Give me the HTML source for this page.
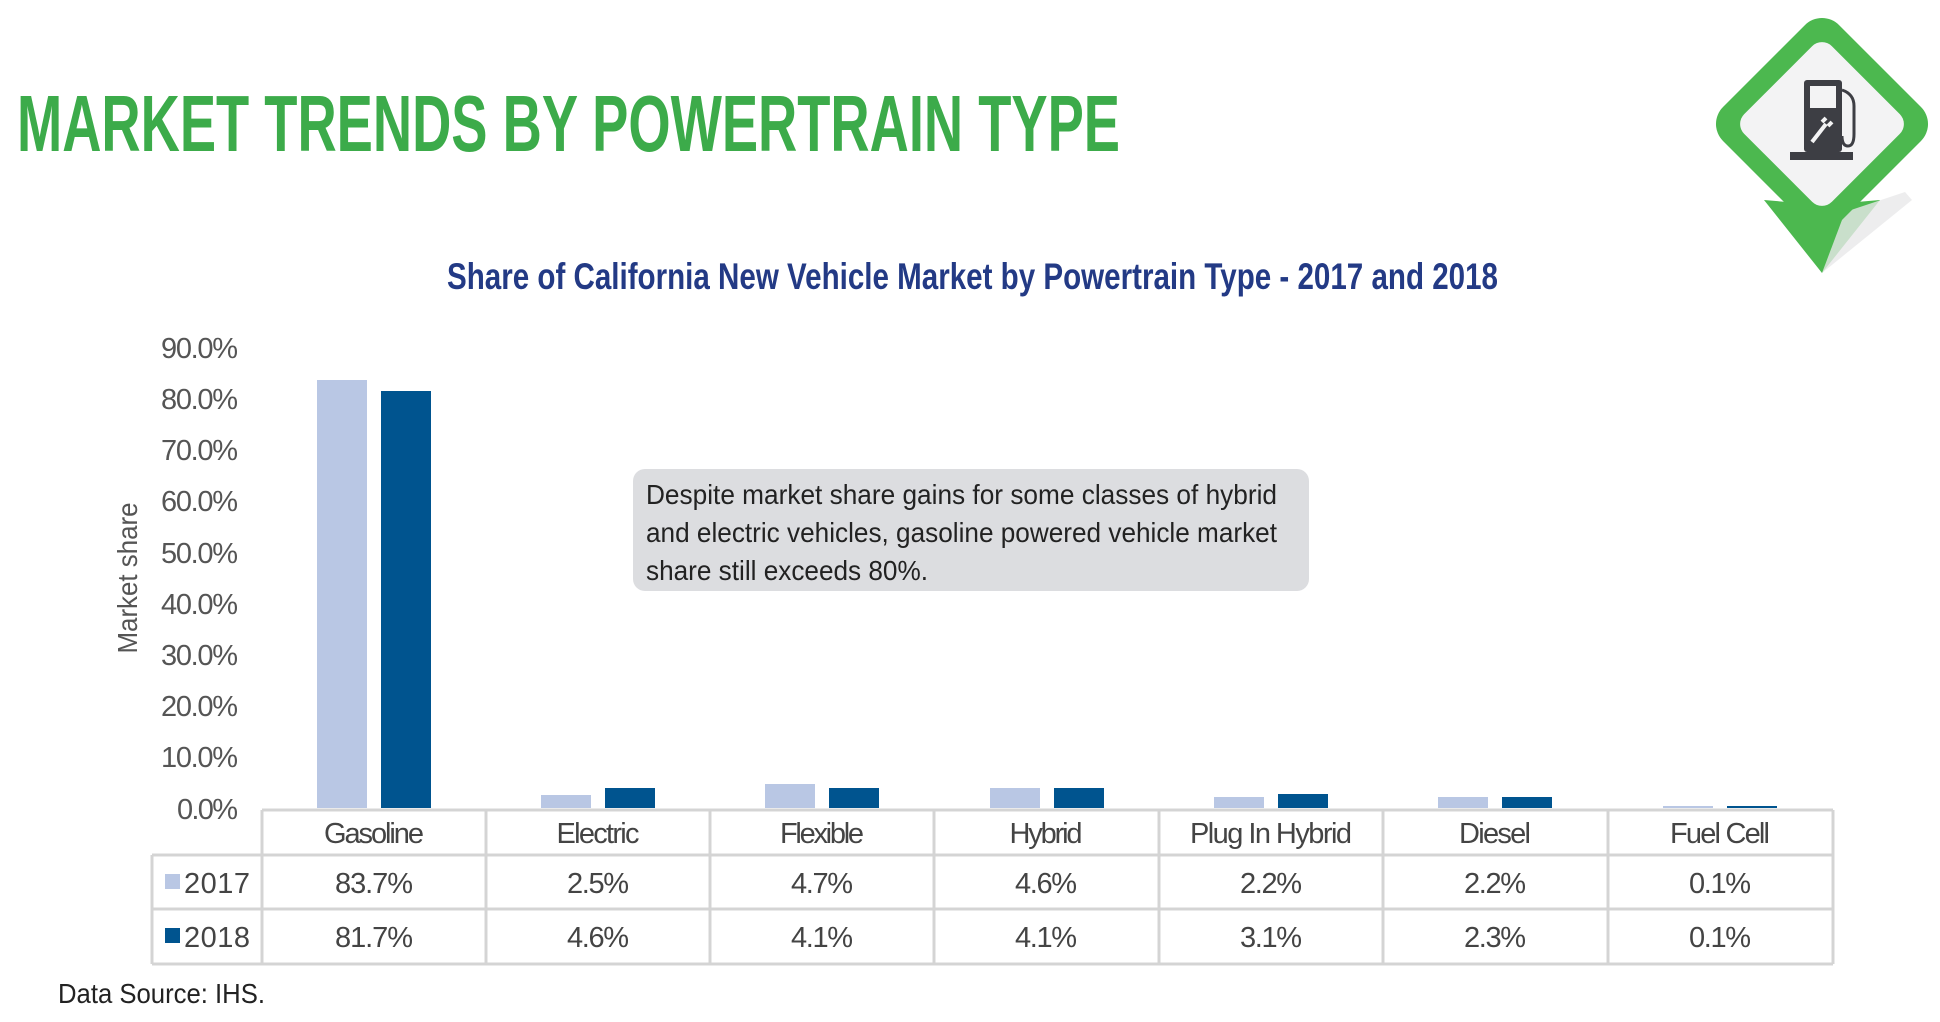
<!DOCTYPE html>
<html><head><meta charset="utf-8"><style>
html,body{margin:0;padding:0;background:#fff;}
svg{display:block;}
text{font-family:"Liberation Sans Narrow","Liberation Sans",sans-serif;}
</style></head><body>
<svg width="1940" height="1022" viewBox="0 0 1940 1022" xmlns="http://www.w3.org/2000/svg">
<rect width="1940" height="1022" fill="#fff"/>
<text x="17" y="151" font-size="80" font-weight="bold" fill="#3cab4a" textLength="1103" lengthAdjust="spacingAndGlyphs">MARKET TRENDS BY POWERTRAIN TYPE</text>
<text x="447" y="289" font-size="37" font-weight="bold" fill="#233a85" textLength="1051" lengthAdjust="spacingAndGlyphs">Share of California New Vehicle Market by Powertrain Type - 2017 and 2018</text>

<!-- icon -->
<g>
<polygon points="1822,205 1880,200 1822,273 1764,200" fill="#4cb84f"/>
<polygon points="1822,273 1845,212 1905,192 1912,200" fill="#e8e8ea" opacity="0.8"/>
<rect x="1740" y="42" width="164" height="164" rx="24" transform="rotate(45 1822 124)" fill="#4cb84f"/>
<rect x="1760" y="62" width="124" height="124" rx="14" transform="rotate(45 1822 124)" fill="#f3f3f4"/>
<rect x="1804" y="80" width="38" height="72" rx="3" fill="#3d3e44"/>
<rect x="1810" y="86" width="26" height="22" fill="#f3f3f4"/>
<rect x="1790" y="152" width="63" height="8" fill="#3d3e44"/>
<path d="M1842 90 q12 4 12 16 v28 q0 12 -6 12 q-6 0 -6 -10" stroke="#3d3e44" stroke-width="3" fill="none"/>
<path d="M1812 142 l14 -18 m-4 -2 l4 -4 m2 8 l4 -4" stroke="#f3f3f4" stroke-width="4" fill="none"/>
</g>

<!-- y axis -->
<g font-size="29" fill="#555" text-anchor="end" lengthAdjust="spacingAndGlyphs">
<text x="238" y="358" textLength="77">90.0%</text>
<text x="238" y="409" textLength="77">80.0%</text>
<text x="238" y="460" textLength="77">70.0%</text>
<text x="238" y="511" textLength="77">60.0%</text>
<text x="238" y="563" textLength="77">50.0%</text>
<text x="238" y="614" textLength="77">40.0%</text>
<text x="238" y="665" textLength="77">30.0%</text>
<text x="238" y="716" textLength="77">20.0%</text>
<text x="238" y="767" textLength="77">10.0%</text>
<text x="238" y="819" textLength="61">0.0%</text>
</g>
<text transform="translate(137 578) rotate(-90)" font-size="28" fill="#555" text-anchor="middle" textLength="151" lengthAdjust="spacingAndGlyphs">Market share</text>

<!-- bars -->
<g>
<rect x="317" y="380" width="50" height="428" fill="#b9c7e4"/>
<rect x="381" y="391" width="50" height="417" fill="#00548f"/>
<rect x="541" y="795" width="50" height="13" fill="#b9c7e4"/>
<rect x="605" y="788" width="50" height="20" fill="#00548f"/>
<rect x="765" y="784" width="50" height="24" fill="#b9c7e4"/>
<rect x="829" y="788" width="50" height="20" fill="#00548f"/>
<rect x="990" y="788" width="50" height="20" fill="#b9c7e4"/>
<rect x="1054" y="788" width="50" height="20" fill="#00548f"/>
<rect x="1214" y="797" width="50" height="11" fill="#b9c7e4"/>
<rect x="1278" y="794" width="50" height="14" fill="#00548f"/>
<rect x="1438" y="797" width="50" height="11" fill="#b9c7e4"/>
<rect x="1502" y="797" width="50" height="11" fill="#00548f"/>
<rect x="1663" y="806" width="50" height="2" fill="#b9c7e4"/>
<rect x="1727" y="806" width="50" height="2" fill="#00548f"/>
</g>

<!-- annotation -->
<rect x="633" y="469" width="676" height="122" rx="12" fill="#dcdde0"/>
<g font-size="28" fill="#222">
<text x="646" y="504" textLength="631" lengthAdjust="spacingAndGlyphs">Despite market share gains for some classes of hybrid</text>
<text x="646" y="542" textLength="631" lengthAdjust="spacingAndGlyphs">and electric vehicles, gasoline powered vehicle market</text>
<text x="646" y="580" textLength="282" lengthAdjust="spacingAndGlyphs">share still exceeds 80%.</text>
</g>

<!-- table -->
<g stroke="#d4d4d4" stroke-width="3" fill="none">
<line x1="262" y1="810" x2="1833" y2="810"/>
<line x1="152" y1="855" x2="1833" y2="855"/>
<line x1="152" y1="909" x2="1833" y2="909"/>
<line x1="152" y1="964" x2="1833" y2="964"/>
<line x1="152" y1="855" x2="152" y2="964"/>
<line x1="262" y1="810" x2="262" y2="964"/>
<line x1="486" y1="810" x2="486" y2="964"/>
<line x1="710" y1="810" x2="710" y2="964"/>
<line x1="934" y1="810" x2="934" y2="964"/>
<line x1="1159" y1="810" x2="1159" y2="964"/>
<line x1="1383" y1="810" x2="1383" y2="964"/>
<line x1="1608" y1="810" x2="1608" y2="964"/>
<line x1="1833" y1="810" x2="1833" y2="964"/>
</g>
<g font-size="29" fill="#444" text-anchor="middle" lengthAdjust="spacingAndGlyphs">
<text x="374" y="843" textLength="100">Gasoline</text>
<text x="598" y="843" textLength="83">Electric</text>
<text x="822" y="843" textLength="84">Flexible</text>
<text x="1046" y="843" textLength="73">Hybrid</text>
<text x="1271" y="843" textLength="162">Plug In Hybrid</text>
<text x="1495" y="843" textLength="72">Diesel</text>
<text x="1720" y="843" textLength="100">Fuel Cell</text>
<text x="374" y="893" textLength="78">83.7%</text>
<text x="598" y="893" textLength="62">2.5%</text>
<text x="822" y="893" textLength="62">4.7%</text>
<text x="1046" y="893" textLength="62">4.6%</text>
<text x="1271" y="893" textLength="62">2.2%</text>
<text x="1495" y="893" textLength="62">2.2%</text>
<text x="1720" y="893" textLength="62">0.1%</text>
<text x="374" y="947" textLength="78">81.7%</text>
<text x="598" y="947" textLength="62">4.6%</text>
<text x="822" y="947" textLength="62">4.1%</text>
<text x="1046" y="947" textLength="62">4.1%</text>
<text x="1271" y="947" textLength="62">3.1%</text>
<text x="1495" y="947" textLength="62">2.3%</text>
<text x="1720" y="947" textLength="62">0.1%</text>
</g>
<rect x="165" y="874" width="15" height="15" fill="#b9c7e4"/>
<rect x="165" y="928" width="15" height="15" fill="#00548f"/>
<g font-size="29" fill="#444" lengthAdjust="spacingAndGlyphs">
<text x="184" y="893" textLength="66">2017</text>
<text x="184" y="947" textLength="66">2018</text>
</g>
<text x="58" y="1003" font-size="28" fill="#222" textLength="207" lengthAdjust="spacingAndGlyphs">Data Source: IHS.</text>
</svg>
</body></html>
